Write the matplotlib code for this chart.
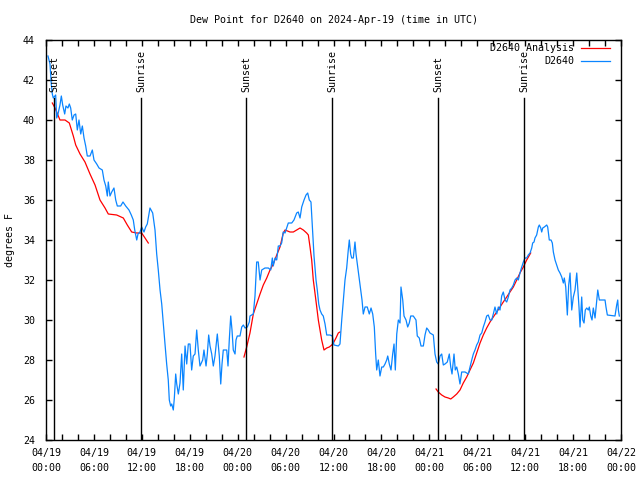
import matplotlib
matplotlib.use("Agg")
import matplotlib.pyplot as plt
from matplotlib.ticker import MultipleLocator, FixedLocator

# hours since 2024-04-19 00:00 UTC
obs_hours = [0.25,0.50,0.66,0.79,0.91,1.21,1.34,1.50,1.75,1.92,2.09,2.34,2.50,2.75,2.92,3.09,3.29,3.51,3.72,3.92,
             4.13,4.35,4.55,4.76,4.97,5.17,5.51,5.80,6.01,6.35,6.64,7.05,7.26,7.48,7.68,7.80,8.01,8.23,8.51,8.73,
             8.93,9.35,9.64,9.98,10.39,10.68,10.93,11.11,11.36,11.52,11.77,11.98,12.27,12.48,12.68,13.02,13.36,13.65,13.86,14.06,
             14.28,14.49,14.69,14.90,15.11,15.31,15.44,15.61,15.74,15.94,16.07,16.24,16.37,16.57,16.78,16.99,17.19,17.41,17.62,17.82,
             18.03,18.24,18.44,18.66,18.87,19.07,19.28,19.62,19.78,20.04,20.20,20.37,20.54,20.75,20.95,21.16,21.45,21.70,21.88,22.04,
             22.20,22.63,22.79,22.95,23.13,23.29,23.45,23.67,23.79,23.95,24.29,24.51,24.71,24.92,25.21,25.46,25.54,25.76,25.96,26.17,
             26.38,26.58,26.80,27.01,27.42,27.84,28.14,28.34,28.46,28.68,28.89,29.09,29.30,29.51,29.71,29.93,30.34,30.77,31.05,31.39,
             31.59,31.81,32.02,32.31,32.56,32.77,32.97,33.18,33.40,33.56,33.81,33.97,34.15,34.31,34.52,34.72,34.94,35.15,35.56,35.85,
             36.06,36.60,36.81,37.03,37.23,37.44,37.65,37.85,37.98,38.15,38.28,38.48,38.69,38.82,38.98,39.23,39.41,39.57,39.73,39.95,
             40.23,40.48,40.70,40.91,41.11,41.28,41.41,41.61,41.82,42.04,42.24,42.45,42.66,42.79,42.99,43.20,43.41,43.58,43.74,43.92,
             44.12,44.33,44.45,44.67,44.83,45.08,45.29,45.49,45.67,45.99,46.33,46.49,46.74,46.96,47.25,47.46,47.67,47.87,48.08,48.50,
             48.71,48.92,49.12,49.34,49.55,49.75,49.96,50.25,50.50,50.68,50.84,51.09,51.25,51.43,51.63,51.84,52.05,52.47,52.88,53.09,
             53.31,53.51,53.72,53.93,54.13,54.35,54.56,54.76,54.97,55.18,55.38,55.60,55.81,56.01,56.22,56.44,56.64,56.85,57.06,57.26,
             57.48,57.69,57.89,58.10,58.32,58.52,58.73,58.94,59.14,59.35,59.57,59.77,59.98,60.19,60.39,60.61,60.82,60.94,61.11,61.23,
             61.44,61.65,61.77,61.95,62.07,62.20,62.40,62.70,62.82,63.02,63.24,63.40,63.53,63.74,63.95,64.15,64.36,64.58,64.78,64.90,
             65.08,65.28,65.45,65.62,65.83,66.03,66.24,66.46,66.58,66.74,66.87,67.08,67.21,67.37,67.53,67.71,67.91,68.03,68.21,68.37,
             68.53,68.75,68.96,69.09,69.29,70.00,70.12,70.29,71.25,71.46,71.59,71.67,71.79]
obs_dewpt = [43.2,42.8,41.8,41.3,41.1,41.25,40.1,40.3,40.75,41.2,40.75,40.3,40.7,40.6,40.8,40.6,40.0,40.25,40.3,39.5,
             40.0,39.3,39.7,39.1,38.7,38.2,38.2,38.5,38.0,37.8,37.6,37.5,37.0,36.7,36.2,36.9,36.2,36.4,36.6,36.0,
             35.7,35.7,35.9,35.7,35.5,35.25,35.0,34.5,34.0,34.3,34.4,34.65,34.4,34.65,34.8,35.6,35.35,34.5,33.3,32.5,
             31.5,30.8,29.8,28.8,27.8,27.0,26.0,25.7,25.8,25.5,26.1,27.3,26.8,26.3,26.85,28.3,26.5,28.7,27.8,28.8,
             28.8,27.5,28.2,28.3,29.5,28.5,27.7,28.0,28.5,27.7,28.3,29.25,28.7,28.3,27.7,28.2,29.3,28.2,26.8,27.8,
             28.5,28.5,27.7,29.0,30.2,29.5,28.5,28.3,29.0,29.2,29.2,29.65,29.75,29.6,29.65,29.9,30.2,30.25,30.3,31.2,
             32.9,32.9,32.0,32.5,32.6,32.6,32.5,33.1,32.7,33.1,33.0,33.7,33.7,33.85,34.4,34.35,34.85,34.85,35.0,35.35,
             35.4,35.1,35.65,36.0,36.25,36.35,36.0,35.9,34.35,33.2,32.0,31.5,30.8,30.5,30.3,30.2,29.8,29.25,29.25,29.2,
             28.75,28.7,28.8,30.0,31.0,32.0,32.6,33.5,34.0,33.3,33.1,33.1,33.9,33.3,32.8,32.0,31.5,31.0,30.3,30.65,
             30.65,30.3,30.6,30.3,29.65,28.3,27.5,28.0,27.2,27.65,27.65,27.8,28.0,28.2,27.8,27.5,28.3,28.8,27.5,29.3,
             30.0,29.85,31.65,31.0,30.2,30.0,29.65,29.85,30.2,30.2,30.0,29.2,29.1,28.7,28.7,29.25,29.6,29.5,29.35,29.25,
             28.3,27.9,27.8,28.2,28.3,27.75,27.8,27.9,28.3,27.65,27.3,28.3,27.5,27.65,27.3,26.8,27.4,27.4,27.3,27.65,
             28.0,28.3,28.5,28.75,28.9,29.25,29.35,29.65,29.9,30.2,30.25,30.0,30.0,30.3,30.65,30.3,30.65,30.5,31.2,31.4,
             31.0,30.9,31.15,31.5,31.6,31.75,32.0,32.1,32.0,32.35,32.65,32.9,33.1,33.1,33.25,33.35,33.6,33.85,33.9,34.1,
             34.25,34.65,34.75,34.6,34.4,34.6,34.65,34.75,34.65,34.0,34.0,33.85,33.4,33.0,32.75,32.5,32.35,32.15,31.85,32.1,
             31.65,30.25,31.75,32.35,30.5,31.15,31.5,32.35,31.6,30.65,29.65,31.15,30.0,29.85,30.5,30.6,30.5,30.65,30.2,30.0,
             30.6,30.1,31.0,31.5,31.0,31.0,30.65,30.25,30.2,30.75,31.0,30.5,30.2]

ana1_hours = [0.79,1.13,1.75,2.38,2.92,3.42,3.72,4.26,4.88,5.51,6.14,6.76,7.39,7.80,8.85,9.68,10.18,10.73,11.36,11.98,12.40,12.81]
ana1_dewpt = [40.85,40.6,40.0,40.0,39.85,39.2,38.75,38.3,37.9,37.3,36.75,36.0,35.6,35.3,35.25,35.1,34.75,34.4,34.35,34.35,34.1,33.85]
ana2_hours = [24.79,25.13,25.54,25.96,26.38,26.80,27.21,27.64,28.05,28.46,28.89,29.30,29.71,29.93,30.55,30.97,31.39,31.81,32.22,32.64,
              32.85,33.06,33.27,33.47,33.68,33.90,34.10,34.31,34.52,34.81,35.15,35.47,35.78,35.98,36.31,36.60,36.81]
ana2_dewpt = [28.15,28.65,29.35,30.3,30.8,31.3,31.75,32.1,32.5,32.8,33.25,33.65,34.35,34.5,34.4,34.4,34.5,34.6,34.5,34.35,
              34.25,33.65,33.0,32.0,31.35,30.65,30.0,29.5,29.0,28.5,28.6,28.65,28.75,28.85,29.1,29.35,29.4]
ana3_hours = [48.84,49.12,49.55,49.96,50.38,50.68,51.00,51.43,51.84,52.25,52.68,53.09,53.51,53.93,54.35,54.76,55.18,55.60,56.01,56.44,
              56.85,57.26,57.69,58.10,58.52,58.94,59.35,59.77,60.19,60.69]
ana3_dewpt = [26.55,26.4,26.25,26.15,26.1,26.05,26.15,26.3,26.5,26.85,27.15,27.5,27.85,28.35,28.85,29.25,29.6,29.9,30.15,30.4,
              30.65,30.9,31.15,31.4,31.65,32.0,32.35,32.65,33.0,33.35]

sun_hours = [1.05, 11.93, 25.07, 35.87, 49.10, 59.88]
sun_labels = ["Sunset", "Sunrise", "Sunset", "Sunrise", "Sunset", "Sunrise"]

xtick_hours = [0, 6, 12, 18, 24, 30, 36, 42, 48, 54, 60, 66, 72]
xtick_labels = ["04/19\n00:00", "04/19\n06:00", "04/19\n12:00", "04/19\n18:00",
                "04/20\n00:00", "04/20\n06:00", "04/20\n12:00", "04/20\n18:00",
                "04/21\n00:00", "04/21\n06:00", "04/21\n12:00", "04/21\n18:00",
                "04/22\n00:00"]

plt.rcParams['font.family'] = ['DejaVu Sans Mono']
FS = 7.2

fig = plt.figure(figsize=(6.4, 4.8), dpi=100)
ax = fig.add_axes([46/640, 1-440/480, 575/640, 400/480])

red = '#ff0000'
blue = '#0a85ff'
LW = 0.9
ax.plot(ana1_hours, ana1_dewpt, color=red, lw=LW, label='D2640 Analysis')
ax.plot(ana2_hours, ana2_dewpt, color=red, lw=LW)
ax.plot(ana3_hours, ana3_dewpt, color=red, lw=LW)
ax.plot(obs_hours, obs_dewpt, color=blue, lw=LW, label='D2640')

for h, lab in zip(sun_hours, sun_labels):
    ax.plot([h, h], [24, 41.1], color='black', lw=1.0)
    ax.text(h, 41.4, lab, rotation=90, ha='center', va='bottom', fontsize=FS)

ax.set_xlim(0, 72)
ax.set_ylim(24, 44)
ax.xaxis.set_major_locator(FixedLocator(xtick_hours))
ax.set_xticklabels(xtick_labels, fontsize=FS, linespacing=1.6)
ax.xaxis.set_minor_locator(MultipleLocator(2))
ax.yaxis.set_major_locator(MultipleLocator(2))
ax.tick_params(axis='both', which='both', direction='in', top=True, right=True, length=4, width=1, labelsize=FS)
ax.tick_params(axis='x', pad=6)
ax.tick_params(axis='y', pad=8)
for s in ax.spines.values():
    s.set_linewidth(1.0)

ax.set_title('Dew Point for D2640 on 2024-Apr-19 (time in UTC)', fontsize=FS, pad=12)
ax.set_ylabel('degrees F', fontsize=FS, labelpad=6)

leg = ax.legend(loc='upper right', bbox_to_anchor=(0.981, 0.992), markerfirst=False, frameon=False,
                fontsize=FS, handlelength=2.9, handletextpad=0.7, labelspacing=0.3,
                borderaxespad=0.0, borderpad=0.0)

fig.savefig('out.png', dpi=100)
